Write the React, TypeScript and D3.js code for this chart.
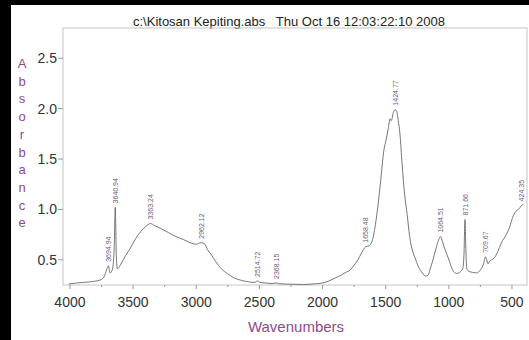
import * as d3 from 'd3';

const wavenumbers = [
  4010, 3950, 3850, 3760, 3730, 3710, 3695, 3683, 3665, 3650, 3641, 3633, 3625, 3615, 3600,
  3560, 3520, 3480, 3440, 3400, 3363, 3330, 3280, 3220, 3160, 3100, 3050, 3000, 2962, 2935,
  2910, 2880, 2850, 2800, 2750, 2700, 2640, 2580, 2540, 2515, 2495, 2450, 2400, 2368, 2340,
  2250, 2150, 2080, 2000, 1950, 1900, 1850, 1810, 1790, 1760, 1720, 1690, 1658, 1630, 1600,
  1570, 1540, 1515, 1495, 1480, 1465, 1455, 1440, 1425, 1412, 1400, 1387, 1370, 1350, 1330,
  1310, 1290, 1268, 1240, 1210, 1185, 1165, 1150, 1130, 1100, 1080, 1065, 1050, 1030, 1005,
  980, 960, 935, 910, 890, 880, 872, 865, 857, 840, 810, 780, 750, 725, 710, 700, 690, 675,
  660, 640, 620, 600, 575, 550, 520, 495, 470, 450, 435, 424, 410
];

const absorbance = [
  0.26, 0.27, 0.28, 0.3, 0.33, 0.4, 0.44, 0.37, 0.4, 0.6, 1.02, 0.55, 0.41, 0.42, 0.45,
  0.54, 0.62, 0.71, 0.78, 0.83, 0.86, 0.84, 0.81, 0.77, 0.73, 0.7, 0.67, 0.655, 0.67, 0.66,
  0.6, 0.55, 0.49, 0.41, 0.36, 0.32, 0.295, 0.28, 0.275, 0.29, 0.275, 0.27, 0.265, 0.27, 0.262,
  0.258, 0.255, 0.26, 0.27, 0.29, 0.32, 0.35, 0.38, 0.39, 0.43, 0.5, 0.57, 0.63, 0.64, 0.72,
  0.95, 1.28, 1.58, 1.7, 1.8, 1.9, 1.88, 1.96, 1.99, 1.97, 1.88, 1.75, 1.45, 1.15, 0.95,
  0.73, 0.6, 0.52, 0.43, 0.37, 0.34, 0.345, 0.4, 0.48, 0.62, 0.7, 0.73, 0.68, 0.6, 0.52,
  0.43, 0.38, 0.365, 0.38, 0.41, 0.55, 0.9, 0.6, 0.41, 0.385, 0.375, 0.37, 0.4, 0.46, 0.53, 0.5, 0.46, 0.49,
  0.5, 0.52, 0.56, 0.62, 0.69, 0.74, 0.82, 0.92, 0.98, 1.0, 1.02, 1.04, 1.05
];

const peakLabels = [
  '3694.94', '3640.94', '3363.24', '2962.12', '2514.72', '2368.15',
  '1658.48', '1424.77', '1064.51', '871.66', '709.67', '424.35'
];
const peakHeights = [0.44, 1.02, 0.86, 0.67, 0.29, 0.27, 0.63, 1.99, 0.73, 0.9, 0.53, 1.04];

const xTicks = [4000, 3500, 3000, 2500, 2000, 1500, 1000, 500];
const yTicks = [0.5, 1.0, 1.5, 2.0, 2.5];

const title = 'c:\\Kitosan Kepiting.abs   Thu Oct 16 12:03:22:10 2008';
const yLabel = 'Absorbance';
const xLabel = 'Wavenumbers';

const width = 529;
const height = 340;
const plot = { left: 63, right: 527, top: 28, bottom: 285 };
const purple = '#8e4a8e';
const font = '"Liberation Sans", Arial, sans-serif';

export default function App() {
  const xScale = d3.scaleLinear().domain([4055, 381]).range([plot.left, plot.right]);
  const yScale = d3.scaleLinear().domain([0.25, 2.8]).range([plot.bottom, plot.top]);

  const points = wavenumbers.map((w, i) => [w, absorbance[i]] as [number, number]);
  const lineGen = d3
    .line<[number, number]>()
    .x((d) => xScale(d[0]))
    .y((d) => yScale(d[1]))
    .curve(d3.curveMonotoneX);

  const minorTicks = d3.range(3750, 400, -250).filter((t) => !xTicks.includes(t));

  return (
    <svg
      width={width}
      height={height}
      style={{ position: 'absolute', left: 0, top: 0, background: '#fff' }}
      fontFamily={font}
    >
      <rect x={0} y={0} width={11} height={height} fill="#000" />
      <rect x={0} y={0} width={width} height={5} fill="#000" />

      <text x={289} y={26} textAnchor="middle" fontSize={13} fill="#222" style={{ whiteSpace: 'pre' }}>
        {title}
      </text>

      <rect
        x={plot.left}
        y={plot.top}
        width={plot.right - plot.left}
        height={plot.bottom - plot.top}
        fill="none"
        stroke="#c4c4c4"
        strokeWidth={1}
      />

      {/* y axis */}
      {yTicks.map((t) => (
        <g key={t} transform={`translate(0,${yScale(t)})`}>
          <line x1={58} x2={plot.left} stroke="#999" />
          <text x={57} y={5} textAnchor="end" fontSize={14} fill="#333">
            {t.toFixed(1)}
          </text>
        </g>
      ))}
      {yLabel.split('').map((ch, i) => (
        <text key={i} x={22} y={68 + i * 17.7} textAnchor="middle" fontSize={13} fill={purple}>
          {ch}
        </text>
      ))}

      {/* x axis */}
      {xTicks.map((t) => (
        <g key={t} transform={`translate(${xScale(t)},0)`}>
          <line y1={plot.bottom} y2={plot.bottom + 4} stroke="#999" />
          <text y={307} textAnchor="middle" fontSize={14} fill="#333">
            {t}
          </text>
        </g>
      ))}
      {minorTicks.map((t) => (
        <line
          key={t}
          x1={xScale(t)}
          x2={xScale(t)}
          y1={plot.bottom}
          y2={plot.bottom + 2}
          stroke="#b58ab5"
        />
      ))}
      <text x={296} y={332} textAnchor="middle" fontSize={15} fill={purple}>
        {xLabel}
      </text>

      <path d={lineGen(points)!} fill="none" stroke="#666" strokeWidth={0.9} />

      {/* peak picks */}
      {peakLabels.map((label, i) => {
        const px = xScale(+label);
        const py = yScale(peakHeights[i]) - 4;
        return (
          <text
            key={label}
            transform={`translate(${px + 2.5},${py}) rotate(-90)`}
            fontSize={7}
            fill="#6b5a78"
          >
            {label}
          </text>
        );
      })}
    </svg>
  );
}
